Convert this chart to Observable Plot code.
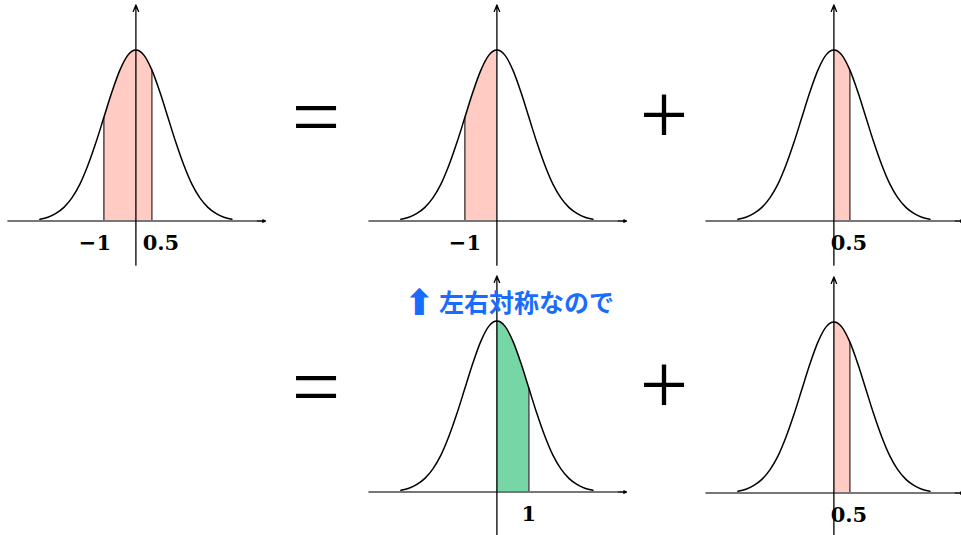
<!DOCTYPE html>
<html>
<head>
<meta charset="utf-8">
<script src="https://cdn.jsdelivr.net/npm/d3@7"></script>
<script src="https://cdn.jsdelivr.net/npm/@observablehq/plot@0.6"></script>
<style>
  html, body { margin: 0; padding: 0; background: #fff; }
  #chart { position: relative; width: 961px; height: 535px; overflow: hidden; background: #fff; }
  .op { position: absolute; width: 100px; text-align: center; font-family: "Liberation Serif", serif; font-size: 86px; line-height: 86px; color: #000; }
  .note { position: absolute; font-family: "Noto Sans CJK JP", sans-serif; font-weight: 700; font-size: 25px; line-height: 25px; color: #1a6cff; white-space: nowrap; }
</style>
</head>
<body>
<div id="chart"></div>
<script>
// ---- data (standard normal density) ----
const curveX = [-3, -2.75, -2.5, -2.25, -2, -1.75, -1.5, -1.25, -1, -0.75, -0.5, -0.25, 0,
                0.25, 0.5, 0.75, 1, 1.25, 1.5, 1.75, 2, 2.25, 2.5, 2.75, 3];
const curveY = [0.004, 0.009, 0.018, 0.032, 0.054, 0.086, 0.130, 0.183, 0.242, 0.301, 0.352, 0.387, 0.399,
                0.387, 0.352, 0.301, 0.242, 0.183, 0.130, 0.086, 0.054, 0.032, 0.018, 0.009, 0.004];
const axisXRange = [-4, 4.05];
const axisYRange = [-0.103, 0.504];
const shadeFrom = [-1, -1, 0, 0, 0];
const shadeTo = [0.5, 0, 0.5, 1, 0.5];
const shadeColors = ["#ffcbc2", "#ffcbc2", "#ffcbc2", "#77d6a6", "#ffcbc2"];
const tickValues = [[-1, 0.5], [-1], [0.5], [1], [0.5]];
const tickLabels = [["−1", "0.5"], ["−1"], ["0.5"], ["1"], ["0.5"]];
const tickShift = [[-9, 9], [0], [-1], [0], [-1]];
const operators = ["=", "+", "=", "+"];
const noteText = "左右対称なので";

// ---- layout ----
const unitX = 32, unitY = 428.7;
const xDom = [-4.2, 4.3], yDom = [-0.12, 0.5145];
const W = (xDom[1] - xDom[0]) * unitX, H = (yDom[1] - yDom[0]) * unitY;
const origins = [[135, 221], [496, 221], [833, 221], [496, 492], [833, 492.5]];
const opPos = [[316, 121.5], [664, 122], [316, 391.5], [664, 392]];

const chart = document.getElementById("chart");
const curve = curveX.map((x, i) => ({x, y: curveY[i]}));
const pdfAt = v => curve.find(d => Math.abs(d.x - v) < 1e-9).y;
const headStart = axisXRange[1] - 0.27;

origins.forEach(([ox, oy], i) => {
  const a = shadeFrom[i], b = shadeTo[i];
  const shade = curve.filter(d => d.x >= a - 1e-9 && d.x <= b + 1e-9);
  const edges = [a, b].filter(v => v !== 0).map(v => ({x: v, y: pdfAt(v)}));
  const labels = tickValues[i].map((v, k) => ({x: v, text: tickLabels[i][k], dx: tickShift[i][k]}));
  const svg = Plot.plot({
    width: W, height: H, margin: 0,
    style: {background: "transparent", overflow: "visible"},
    x: {domain: xDom, axis: null},
    y: {domain: yDom, axis: null},
    marks: [
      Plot.areaY(shade, {x: "x", y: "y", fill: shadeColors[i], curve: "monotone-x"}),
      Plot.ruleX(edges, {x: "x", y1: 0, y2: "y", stroke: "#333", strokeWidth: 1.3}),
      Plot.line(curve, {x: "x", y: "y", stroke: "#000", strokeWidth: 1.5, curve: "monotone-x"}),
      Plot.ruleY([0], {x1: axisXRange[0], x2: headStart, stroke: "#777", strokeWidth: 2}),
      Plot.arrow([{x1: headStart, x2: axisXRange[1]}], {x1: "x1", x2: "x2", y1: 0, y2: 0,
        stroke: "#000", strokeWidth: 1.4, headLength: 8, headAngle: 45}),
      Plot.arrow([{y1: axisYRange[0], y2: axisYRange[1]}], {x1: 0, x2: 0, y1: "y1", y2: "y2",
        stroke: "#000", strokeWidth: 1.3, headLength: 8, headAngle: 45}),
      ...labels.map(l => Plot.text([l], {x: "x", y: 0, text: "text", dx: l.dx, dy: 22,
        fontFamily: "DejaVu Serif", fontWeight: "bold", fontSize: 21, fill: "#000"}))
    ]
  });
  svg.style.position = "absolute";
  svg.style.left = (ox + xDom[0] * unitX) + "px";
  svg.style.top = (oy - yDom[1] * unitY) + "px";
  svg.style.maxWidth = "none";
  chart.appendChild(svg);
});

// operators
operators.forEach((s, i) => {
  const d = document.createElement("div");
  d.className = "op";
  d.textContent = s;
  const [cx, cy] = opPos[i];
  const k = 86 / 84;
  const centerAbove = (s === "=" ? 23.9 : 21.3) * k;
  d.style.left = (cx - 50) + "px";
  d.style.top = (cy + centerAbove - 70.35 * k) + "px";
  chart.appendChild(d);
});

// annotation
const arrow = document.createElement("div");
arrow.className = "note";
arrow.style.fontFamily = "'DejaVu Sans', sans-serif";
arrow.style.fontSize = "36px";
arrow.style.lineHeight = "36px";
arrow.style.left = "404px";
arrow.style.top = "285px";
arrow.textContent = "⬆";
chart.appendChild(arrow);
const note = document.createElement("div");
note.className = "note";
note.style.left = "439px";
note.style.top = "289px";
note.textContent = noteText;
chart.appendChild(note);
</script>
</body>
</html>
